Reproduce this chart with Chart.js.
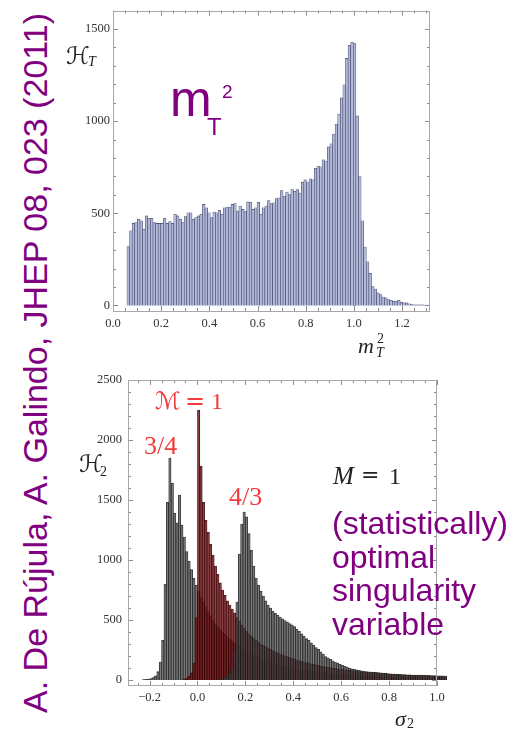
<!DOCTYPE html>
<html>
<head>
<meta charset="utf-8">
<script src="https://cdn.jsdelivr.net/npm/chart.js@4.4.1/dist/chart.umd.min.js"></script>
<style>
  html, body { margin: 0; padding: 0; background: #fff; }
  body { width: 516px; height: 731px; position: relative; overflow: hidden; }
  canvas { position: absolute; }
  .t { position: absolute; line-height: 1; white-space: nowrap; }
  .sans { font-family: "Liberation Sans", Arial, sans-serif; }
  .serif { font-family: "Liberation Serif", "Times New Roman", serif; }
  .it { font-style: italic; }
  .script { font-family: "DejaVu Serif", "DejaVu Sans", serif; }
  .purple { color: #800080; }
  .red { color: #f33a3a; }
  .ink { color: #222; }
</style>
</head>
<body>
<canvas id="mt2" width="390" height="345" style="left:60px;top:0px"></canvas>
<canvas id="sigma2" width="400" height="360" style="left:60px;top:360px"></canvas>

<!-- credit, rotated -->
<div class="t sans purple" style="left:35px;top:363px;font-size:34px;transform:translate(-50%,-50%) rotate(-90deg)">A. De Rújula, A. Galindo, JHEP 08, 023 (2011)</div>

<!-- big m_T^2 -->
<div class="t sans purple" style="left:170px;top:74px;font-size:50px">m</div>
<div class="t sans purple" style="left:207px;top:115px;font-size:24px">T</div>
<div class="t sans purple" style="left:222px;top:82px;font-size:19px">2</div>

<!-- axis titles -->
<div class="t script ink" style="left:66px;top:44px;font-size:24px">ℋ</div>
<div class="t serif it ink" style="left:88px;top:55px;font-size:14px">T</div>
<div class="t serif it ink" style="left:358px;top:335px;font-size:22px">m</div>
<div class="t serif ink" style="left:377px;top:332px;font-size:14px">2</div>
<div class="t serif it ink" style="left:376px;top:346px;font-size:14px">T</div>

<div class="t script ink" style="left:79px;top:452px;font-size:24px">ℋ</div>
<div class="t serif ink" style="left:100px;top:465px;font-size:14px">2</div>
<div class="t serif it ink" style="left:395px;top:708px;font-size:22px">σ</div>
<div class="t serif ink" style="left:407px;top:717px;font-size:14px">2</div>

<!-- annotations in lower plot -->
<div class="t script red" style="left:155px;top:389px;font-size:24px">ℳ</div>
<div class="t script red" style="left:185px;top:389px;font-size:24px">=</div>
<div class="t serif red" style="left:211px;top:389px;font-size:24px">1</div>
<div class="t serif red" style="left:144px;top:433px;font-size:26px">3/4</div>
<div class="t serif red" style="left:229px;top:484px;font-size:26px">4/3</div>

<div class="t serif it ink" style="left:333px;top:463px;font-size:25px">M</div>
<div class="t script ink" style="left:361px;top:464px;font-size:22px">=</div>
<div class="t serif ink" style="left:389px;top:464px;font-size:24px">1</div>

<div class="t sans purple" style="left:332px;top:507px;font-size:32px;line-height:33.5px">(statistically)<br>optimal<br>singularity<br>variable</div>

<script>
// upper histogram: m_T^2, bins of equal width
var mtBinStart = 0.0634;
var mtBinWidth = 0.0108;
var mtCounts = [
  320, 405, 445, 450, 468, 459, 414, 486, 473, 473,
  450, 445, 445, 445, 473, 445, 455, 445, 495, 486,
  468, 450, 482, 503, 503, 468, 477, 486, 495, 548,
  530, 503, 477, 507, 503, 516, 495, 530, 534, 534,
  548, 553, 512, 539, 521, 512, 562, 560, 521, 530,
  560, 495, 530, 539, 569, 552, 557, 580, 584, 623,
  592, 615, 601, 628, 619, 628, 610, 669, 681, 667,
  687, 681, 744, 756, 752, 790, 780, 860, 877, 930,
  984, 1037, 1126, 1197, 1340, 1411, 1428, 1420, 1028, 699,
  459, 317, 237, 174, 103, 89, 68, 59, 46, 41,
  32, 28, 23, 23, 28, 18, 14, 14, 9, 5,
  4, 4, 3, 3, 2, 2
];
var mtXLabels = ["0.0", "0.2", "0.4", "0.6", "0.8", "1.0", "1.2"];
var mtYLabels = ["0", "500", "1000", "1500"];

// lower histogram: sigma_2, three overlaid samples on one bin grid
var sigmaBinStart = -0.225;
var sigmaBinWidth = 0.01;
var sigma34 = [ // M = 3/4
  4, 6, 8, 12, 20, 35, 70, 150, 330, 800,
  1480, 1850, 1640, 1390, 1310, 1540, 1290, 1190, 1070, 990,
  920, 850, 790, 740, 690, 650, 610, 570, 535, 500,
  470, 445, 420, 400, 380, 360, 340, 322, 305, 290,
  275, 262, 250, 238, 226, 215, 205, 195, 186, 178,
  170, 162, 155, 148, 141, 135, 129, 123, 118, 113,
  108, 103, 99, 95, 91, 87, 83, 80, 77, 74,
  71, 68, 65, 63, 60, 58, 56, 54, 52, 50,
  48, 46, 44, 43, 41, 40, 38, 37, 36, 34,
  33, 32, 31, 30, 29, 29, 28, 28, 27, 27,
  26, 26, 25, 25, 24, 24, 23, 23, 22, 22,
  22, 21, 21, 20, 20, 20, 19, 19, 19, 18,
  18, 18, 17, 17, 17, 16, 16
];
var sigma1 = [ // M = 1
  null, null, null, null, null, null, null, null, null, null,
  null, null, null, null, null, null, null, 8, 15, 30,
  60, 140, 520, 2250, 1780, 1480, 1330, 1230, 1130, 1040,
  950, 880, 810, 750, 705, 660, 625, 590, 560, 520,
  490, 460, 430, 405, 385, 365, 345, 330, 315, 300,
  288, 276, 265, 255, 245, 235, 226, 218, 210, 202,
  195, 188, 181, 174, 168, 162, 156, 150, 145, 140,
  135, 130, 126, 122, 118, 114, 110, 106, 103, 100,
  97, 94, 91, 88, 85, 82, 80, 78, 75, 73,
  71, 69, 67, 65, 63, 61, 60, 58, 56, 55,
  53, 52, 50, 49, 48, 46, 45, 44, 43, 42,
  41, 40, 39, 38, 37, 36, 35, 34, 33, 33,
  32, 31, 30, 30, 29, 28, 28
];
var sigma43 = [ // M = 4/3
  null, null, null, null, null, null, null, null, null, null,
  null, null, null, null, null, null, null, null, null, null,
  null, null, null, null, null, null, null, null, null, null,
  null, null, 5, 10, 20, 35, 60, 110, 250, 650,
  1050, 1300, 1400, 1360, 1220, 1080, 950, 850, 790, 740,
  700, 660, 625, 600, 575, 555, 540, 525, 510, 495,
  485, 470, 460, 445, 425, 405, 385, 365, 345, 330,
  310, 290, 270, 255, 235, 215, 195, 185, 172, 160,
  150, 140, 130, 122, 114, 108, 100, 94, 88, 84,
  80, 76, 73, 71, 69, 67, 65, 63, 61, 59,
  57, 55, 53, 52, 50, 49, 48, 47, 46, 45,
  44, 43, 42, 42, 41, 40, 40, 39, 38, 38,
  37, 36, 36, 35, 34, 34, 33
];
var sigmaXLabels = ["−0.2", "0.0", "0.2", "0.4", "0.6", "0.8", "1.0"];
var sigmaYLabels = ["0", "500", "1000", "1500", "2000", "2500"];

function toNum(label) { return parseFloat(label.replace("−", "-")); }

// bar centred on each bin
function binPoints(start, width, counts) {
  var pts = [];
  counts.forEach(function (c, i) {
    if (c !== null) pts.push({ x: start + width * i, y: c });
  });
  return pts;
}

// Mathematica-like frame with inward ticks on all four sides
var frameTicks = {
  id: "frameTicks",
  afterDatasetsDraw: function (chart, args, o) {
    var ctx = chart.ctx, a = chart.chartArea, x = chart.scales.x, y = chart.scales.y;
    function marks(scale, step, major) {
      var out = [];
      for (var k = Math.ceil(scale.min / step - 1e-6); k * step <= scale.max + 1e-9; k++) {
        var v = k * step;
        var isMajor = Math.abs(v / major - Math.round(v / major)) < 1e-6;
        out.push([Math.round(scale.getPixelForValue(v)) + 0.5, isMajor ? o.major : o.minor]);
      }
      return out;
    }
    ctx.save();
    ctx.lineWidth = 1;
    ctx.strokeStyle = o.tickColor;
    ctx.beginPath();
    marks(x, o.xStep, o.xMajor).forEach(function (m) {
      ctx.moveTo(m[0], a.bottom); ctx.lineTo(m[0], a.bottom - m[1]);
      ctx.moveTo(m[0], a.top); ctx.lineTo(m[0], a.top + m[1]);
    });
    marks(y, o.yStep, o.yMajor).forEach(function (m) {
      ctx.moveTo(a.left, m[0]); ctx.lineTo(a.left + m[1], m[0]);
      ctx.moveTo(a.right, m[0]); ctx.lineTo(a.right - m[1], m[0]);
    });
    ctx.stroke();
    ctx.strokeStyle = o.color;
    ctx.strokeRect(Math.round(a.left) + 0.5, Math.round(a.top) + 0.5, Math.round(a.width) - 1, Math.round(a.height) - 1);
    ctx.restore();
  }
};

function axis(min, max, labels, pad, fit, isX) {
  return {
    type: "linear",
    min: min,
    max: max,
    offset: false,
    grid: { display: false, drawTicks: false },
    border: { display: false },
    ticks: {
      autoSkip: false,
      maxRotation: 0,
      padding: pad,
      color: "#333",
      font: { family: "Liberation Serif", size: 12.5 },
      callback: function (v, i) { return labels[i]; }
    },
    afterBuildTicks: function (s) {
      s.ticks = labels.map(function (l) { return { value: toNum(l) }; });
    },
    afterFit: function (s) {
      if (isX) s.height = fit; else s.width = fit;
    }
  };
}

var common = {
  responsive: false,
  animation: false,
  devicePixelRatio: 1,
  events: []
};

new Chart(document.querySelector("#mt2"), {
  type: "bar",
  data: {
    datasets: [{
      data: binPoints(mtBinStart, mtBinWidth, mtCounts),
      backgroundColor: "#b2b9d9",
      borderColor: "#3f4468",
      borderWidth: 0.6,
      borderSkipped: "start",
      barPercentage: 1,
      categoryPercentage: 1,
      grouped: false
    }]
  },
  options: Object.assign({}, common, {
    layout: { padding: { top: 6, right: 20, left: 0, bottom: 0 } },
    plugins: {
      legend: { display: false },
      tooltip: { enabled: false },
      frameTicks: { color: "#a8a8a8", tickColor: "#8c8c8c", major: 5, minor: 3,
                    xStep: 0.05, xMajor: 0.2, yStep: 100, yMajor: 500 }
    },
    scales: {
      x: axis(0, 1.316, mtXLabels, 5, 34, true),
      y: axis(-30, 1600, mtYLabels, 3, 53, false)
    }
  }),
  plugins: [frameTicks]
});

function sigmaSet(counts, fill, edge, order) {
  return {
    data: binPoints(sigmaBinStart, sigmaBinWidth, counts),
    backgroundColor: fill,
    borderColor: edge,
    borderWidth: 0.5,
    borderSkipped: "start",
    barPercentage: 1,
    categoryPercentage: 1,
    grouped: false,
    order: order,
    clip: { left: 0, top: 0, right: 12, bottom: 0 }
  };
}

new Chart(document.querySelector("#sigma2"), {
  type: "bar",
  data: {
    datasets: [
      sigmaSet(sigma43, "rgba(75,75,75,0.62)", "rgba(15,15,15,0.8)", 1),
      sigmaSet(sigma1, "rgba(110,18,22,0.72)", "rgba(45,0,0,0.85)", 2),
      sigmaSet(sigma34, "rgba(75,75,75,0.62)", "rgba(15,15,15,0.8)", 3)
    ]
  },
  options: Object.assign({}, common, {
    layout: { padding: { top: 20, right: 23, left: 0, bottom: 0 } },
    plugins: {
      legend: { display: false },
      tooltip: { enabled: false },
      frameTicks: { color: "#a8a8a8", tickColor: "#8c8c8c", major: 5, minor: 3,
                    xStep: 0.05, xMajor: 0.2, yStep: 100, yMajor: 500 }
    },
    scales: {
      x: axis(-0.29, 1.0, sigmaXLabels, 4, 34, true),
      y: axis(-50, 2500, sigmaYLabels, 6, 68, false)
    }
  }),
  plugins: [frameTicks]
});
</script>
</body>
</html>
